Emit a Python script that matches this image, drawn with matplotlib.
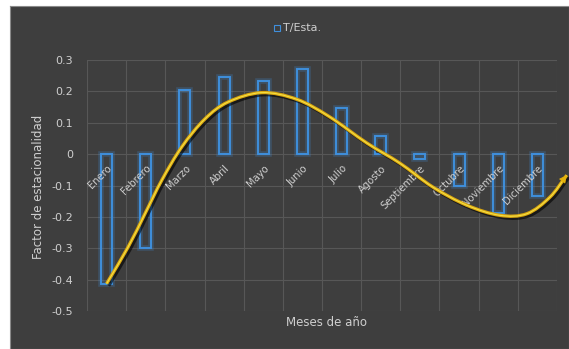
import numpy as np
import matplotlib
matplotlib.use("Agg")
import matplotlib.pyplot as plt
from matplotlib.patches import Rectangle, PathPatch
from matplotlib.path import Path
import matplotlib.patheffects as pe

meses = ["Enero", "Febrero", "Marzo", "Abril", "Mayo", "Junio", "Julio",
         "Agosto", "Septiembre", "Octubre", "Noviembre", "Diciembre"]
factor = [-0.415, -0.30, 0.205, 0.245, 0.232, 0.27, 0.147,
          0.058, -0.014, -0.103, -0.188, -0.133]
y_ticks = [0.3, 0.2, 0.1, 0, -0.1, -0.2, -0.3, -0.4, -0.5]
y_tick_labels = ["0.3", "0.2", "0.1", "0", "-0.1", "-0.2", "-0.3", "-0.4", "-0.5"]
serie = "T/Esta."
titulo_x = "Meses de año"
titulo_y = "Factor de estacionalidad"

# hand-drawn seasonal trend arrow (month index, factor)
trend_x = [0.0, 0.55, 0.98, 1.41, 1.92, 2.51, 3.10, 3.96, 4.85, 5.68,
           6.65, 7.49, 8.33, 9.20, 10.04, 10.73, 11.32, 11.75]
trend_y = [-0.413, -0.296, -0.19, -0.083, 0.023, 0.112, 0.166, 0.196, 0.175, 0.12,
           0.035, -0.029, -0.105, -0.163, -0.195, -0.19, -0.137, -0.067]

bg = "#3e3e3e"
grid_c = "#575757"
text_c = "#cfcfcf"
bar_c = "#3f8fdc"

fig = plt.figure(figsize=(5.69, 3.49), dpi=100)
fig.patch.set_facecolor("white")
# dark chart panel with a thin white margin on top/left
panel = fig.add_axes([10 / 569, 0, 1 - 10 / 569, 1 - 6 / 349], zorder=0)
panel.set_facecolor(bg)
panel.set_xticks([])
panel.set_yticks([])
for s in panel.spines.values():
    s.set_color("#8a8a8a")
    s.set_linewidth(0.8)

ax = fig.add_axes([87 / 569, 1 - 311 / 349, 470 / 569, 251 / 349], zorder=1)
ax.patch.set_alpha(0)
for s in ax.spines.values():
    s.set_visible(False)

x = np.arange(len(meses))
ax.set_xlim(-0.5, len(meses) - 0.5)
ax.set_ylim(-0.5, 0.3)

# gridlines
for yv in y_ticks:
    ax.axhline(yv, color=grid_c, lw=0.8, zorder=1)
for xv in np.arange(-0.5, len(meses) + 0.5, 1):
    ax.axvline(xv, color=grid_c, lw=0.8, zorder=1)

# bars with soft glow
ax.bar(x, factor, width=0.28, facecolor="none", edgecolor=bar_c,
       linewidth=4, alpha=0.25, zorder=2)
ax.bar(x, factor, width=0.28, facecolor="none", edgecolor=bar_c,
       linewidth=1.4, zorder=3)

# smooth curved arrow through the trend points (Catmull-Rom -> cubic Bezier)
pts = np.column_stack([trend_x, trend_y])
ext = np.vstack([pts[0] - (pts[1] - pts[0]), pts, pts[-1] + (pts[-1] - pts[-2])])
verts = [tuple(pts[0])]
codes = [Path.MOVETO]
for i in range(1, len(ext) - 2):
    p0, p1, p2, p3 = ext[i - 1], ext[i], ext[i + 1], ext[i + 2]
    c1 = p1 + (p2 - p0) / 6.0
    c2 = p2 - (p3 - p1) / 6.0
    verts += [tuple(c1), tuple(c2), tuple(p2)]
    codes += [Path.CURVE4] * 3
curve = Path(verts, codes)
ax.add_patch(PathPatch(curve, facecolor="none", edgecolor="#dba60e", lw=2.4,
                       zorder=5, clip_on=False,
                       path_effects=[pe.SimpleLineShadow(offset=(1.5, -1.5),
                                                         shadow_color="black", alpha=0.6),
                                     pe.Normal()]))
ax.add_patch(PathPatch(curve, facecolor="none", edgecolor="#f2df45", lw=0.8,
                       zorder=6, clip_on=False))
tip = pts[-1]
back = tip - (pts[-1] - pts[-2]) * 0.3
ax.annotate("", xy=tuple(tip), xytext=tuple(back),
            arrowprops=dict(arrowstyle="-|>", color="#e5b30c", lw=0.5,
                            mutation_scale=12, shrinkA=0, shrinkB=0),
            annotation_clip=False, zorder=7)

# axes ticks and labels
ax.set_yticks(y_ticks)
ax.set_yticklabels(y_tick_labels)
ax.tick_params(axis="y", length=0, pad=10, labelsize=8, labelcolor=text_c)
ax.set_xticks([])
for i, m in enumerate(meses):
    ax.text(i + 0.1, -0.04, m, rotation=45, ha="right", va="center",
            rotation_mode="anchor", fontsize=7.2, color=text_c, zorder=4)

fig.text(326 / 569, 1 - 323 / 349, titulo_x, ha="center", va="center",
         fontsize=8.5, color=text_c, zorder=3)
fig.text(39 / 569, 1 - 187 / 349, titulo_y, ha="center", va="center",
         rotation=90, fontsize=8.5, color=text_c, zorder=3)

# legend
fig.patches.append(Rectangle((274 / 569, 1 - 31 / 349), 6 / 569, 6 / 349,
                             transform=fig.transFigure, facecolor="none",
                             edgecolor=bar_c, linewidth=0.8, zorder=3))
fig.text(283 / 569, 1 - 28 / 349, serie, ha="left", va="center",
         fontsize=8, color=text_c, zorder=3)

fig.savefig("out.png", dpi=100, facecolor=fig.get_facecolor())
